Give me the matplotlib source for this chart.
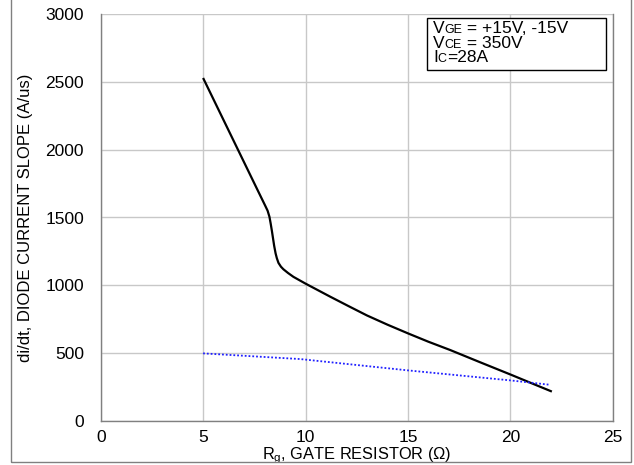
import matplotlib
matplotlib.use("Agg")
import matplotlib.pyplot as plt
from matplotlib.patches import Rectangle

plt.rcParams['font.family'] = ['Liberation Sans', 'DejaVu Sans']

# di/dt (black solid)
rg_didt = [5, 7.62, 8.03, 8.15, 8.24, 8.3, 8.36, 8.47, 8.54, 8.6, 8.68, 8.8, 8.92, 9.15, 9.41, 9.74,
           10.0, 10.5, 11.2, 12.1, 13.0, 14.0, 15.03, 16.0, 17.06, 18.5, 20.04, 21.0, 22.03]
didt = [2530, 1715, 1588, 1550, 1505, 1455, 1400, 1291, 1235, 1200, 1165, 1137, 1118, 1090, 1062, 1034,
        1012, 972, 916, 846, 777, 709, 643, 583, 522, 433, 339, 279, 215]

# second series (blue dotted)
rg_b = [5, 9.74, 15.03, 20.04, 21.95]
val_b = [497, 455, 371, 297, 265]

xticks = [0, 5, 10, 15, 20, 25]
yticks = [0, 500, 1000, 1500, 2000, 2500, 3000]

W, H = 634, 465
fig = plt.figure(figsize=(W / 100, H / 100), dpi=100)
ax = fig.add_axes([100.7 / W, 1 - 420.7 / H, (612.7 - 100.7) / W, (420.7 - 14.3) / H])

ax.plot(rg_didt, didt, color='black', lw=1.6, solid_capstyle='butt', solid_joinstyle='round')
ax.plot(rg_b, val_b, color='#2020ff', lw=1.3, ls=(0, (1, 1.1)))

ax.set_xlim(0, 25)
ax.set_ylim(0, 3000)
ax.set_xticks(xticks)
ax.set_yticks(yticks)
ax.grid(True, color='#c8c8c8', lw=1)
ax.set_axisbelow(True)
for s in ax.spines.values():
    s.set_color('#808080')
    s.set_linewidth(1)
ax.spines['top'].set_visible(False)
ax.tick_params(length=0, labelsize=12.5, colors='black')
ax.tick_params(axis='y', pad=12)
ax.tick_params(axis='x', pad=6.5)

ax.set_xlabel('R$_\\mathregular{g}$, GATE RESISTOR (Ω)', fontsize=11.8, labelpad=0.5)
ax.set_ylabel('di/dt, DIODE CURRENT SLOPE (A/us)', fontsize=12, labelpad=9)

# annotation box
fig.patches.append(Rectangle((426.7 / W, 1 - 70 / H), (605.7 - 426.7) / W, (70 - 18.3) / H,
                             transform=fig.transFigure, fill=True, facecolor='white',
                             edgecolor='black', lw=1, zorder=5))
renderer = fig.canvas.get_renderer()
lines = [
    [('V', 12.5), ('GE', 9), (' = +15V, -15V', 12.5)],
    [('V', 12.5), ('CE', 9), (' = 350V', 12.5)],
    [('I', 12.5), ('C', 9), ('=28A', 12.5)],
]
baselines = [33.3, 47.5, 61.7]
for parts, by in zip(lines, baselines):
    x = 433.0
    for t, sz in parts:
        txt = fig.text(x / W, 1 - by / H, t, fontsize=sz, va='baseline', ha='left', zorder=6)
        bb = txt.get_window_extent(renderer)
        x = bb.x1

# outer figure border
fig.patches.append(Rectangle((11 / W, 1 - 462 / H), (631 - 11) / W, 462 / H + 0.01,
                             transform=fig.transFigure, fill=False, edgecolor='#808080', lw=1))

fig.savefig('out.png', dpi=100)
